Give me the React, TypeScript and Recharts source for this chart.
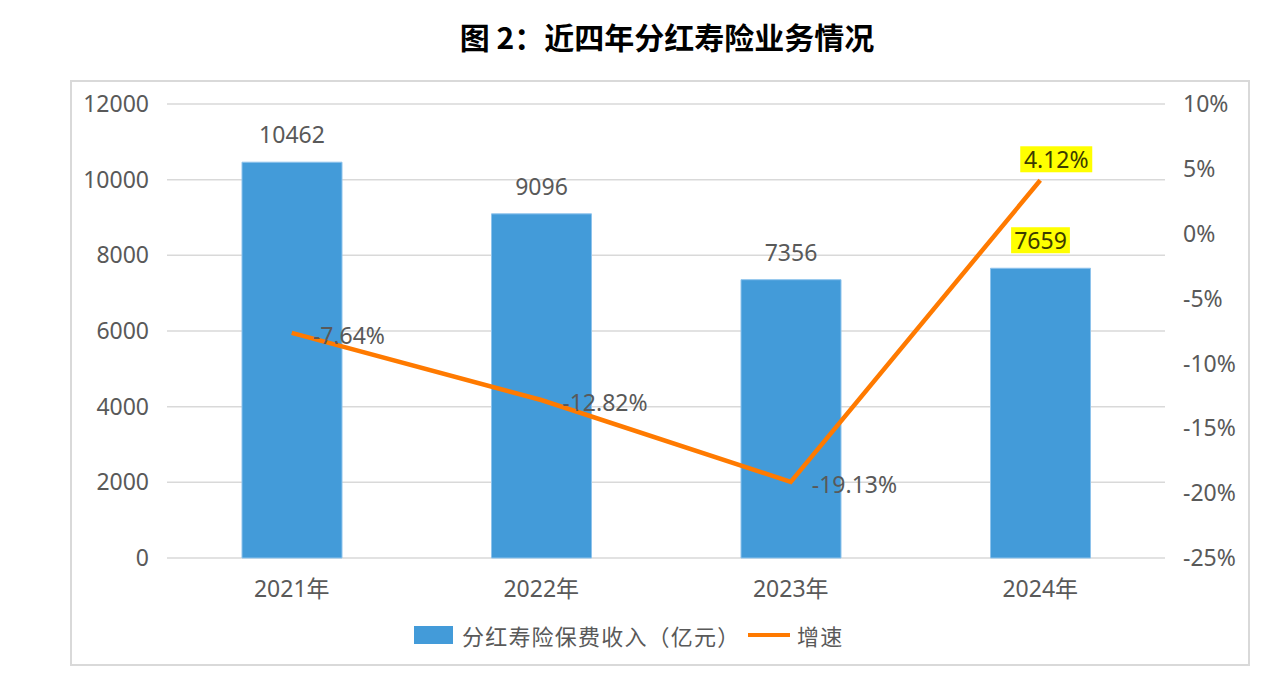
import React from "react";
import { ComposedChart, Bar, Line, XAxis, YAxis, CartesianGrid, LabelList } from "recharts";

// 近四年分红寿险业务情况
const years = ["2021年", "2022年", "2023年", "2024年"];
const premium = [10462, 9096, 7356, 7659]; // 亿元
const growth = [-7.64, -12.82, -19.13, 4.12]; // %
const leftTicks = [0, 2000, 4000, 6000, 8000, 10000, 12000];
const rightTicks = [-25, -20, -15, -10, -5, 0, 5, 10];
const highlightIndex = 3; // 2024 labels are marked in yellow

const data = years.map((year, i) => ({ year, premium: premium[i], growth: growth[i] }));

const FONT = "'Noto Sans', 'Noto Sans CJK SC', sans-serif";
const GREY = "#595959";
const BLUE = "#439bd9";
const ORANGE = "#ff7a00";
const FS = 23;

function Tag({ cx, cy, text, hi }: { cx: number; cy: number; text: string; hi: boolean }) {
  const w = text.length * 13.2 + 6;
  return (
    <g>
      {hi && <rect x={cx - w / 2} y={cy - 13} width={w} height={26} fill="#ffff00" />}
      <text x={cx} y={cy} textAnchor="middle" dominantBaseline="central" fontSize={FS} fontFamily={FONT} fill={hi ? "#3b3b00" : GREY}>
        {text}
      </text>
    </g>
  );
}

const barLabel = (p: any) => (
  <Tag cx={p.x + p.width / 2} cy={p.y - 28} text={String(p.value)} hi={p.index === highlightIndex} />
);

const lineLabel = (p: any) => {
  const text = Number(p.value).toFixed(2) + "%";
  if (p.index === highlightIndex) {
    return <Tag cx={p.x + 16} cy={p.y - 21} text={text} hi />;
  }
  return (
    <text x={p.x + 21} y={p.y + 2} dominantBaseline="central" fontSize={FS} fontFamily={FONT} fill={GREY}>
      {text}
    </text>
  );
};

const legendText: React.CSSProperties = {
  position: "absolute", top: 620, fontSize: 22, lineHeight: "30px", color: GREY, letterSpacing: 1.2,
  fontFamily: "'Noto Sans CJK SC', sans-serif", whiteSpace: "nowrap",
};

export default function App() {
  return (
    <div style={{ position: "absolute", left: 0, top: 0, width: 1275, height: 692, background: "#fff", fontFamily: FONT }}>
      <div
        style={{
          position: "absolute", left: 367, top: 14, width: 600, textAlign: "center",
          fontFamily: "'Noto Sans CJK SC', sans-serif", fontWeight: 700, fontSize: 30, color: "#000", whiteSpace: "nowrap",
        }}
      >
        图 2：近四年分红寿险业务情况
      </div>
      <div style={{ position: "absolute", left: 70, top: 80, width: 1176, height: 582, border: "2px solid #d9d9d9" }} />

      <ComposedChart
        width={1275}
        height={692}
        data={data}
        margin={{ top: 104, right: 0, left: 0, bottom: 94 }}
        style={{ position: "absolute", left: 0, top: 0 }}
      >
        <CartesianGrid yAxisId="left" vertical={false} stroke="#d9d9d9" strokeWidth={1.5} />
        <XAxis
          dataKey="year"
          height={40}
          axisLine={false}
          tickLine={false}
          tickMargin={17}
          tick={{ fontSize: FS, fill: GREY, fontFamily: FONT }}
        />
        <YAxis
          yAxisId="left"
          width={167}
          domain={[0, 12000]}
          ticks={leftTicks}
          axisLine={false}
          tickLine={false}
          tickMargin={12}
          tick={{ fontSize: FS, fill: GREY, fontFamily: FONT }}
        />
        <YAxis
          yAxisId="right"
          orientation="right"
          width={110}
          domain={[-25, 10]}
          ticks={rightTicks}
          tickFormatter={(v) => v + "%"}
          axisLine={false}
          tickLine={false}
          tickMargin={12}
          tick={{ fontSize: FS, fill: GREY, fontFamily: FONT }}
        />
        <Bar yAxisId="left" dataKey="premium" barSize={100} fill={BLUE} stroke="#8ec3ec" strokeWidth={1} isAnimationActive={false}>
          <LabelList dataKey="premium" content={barLabel} />
        </Bar>
        <Line
          yAxisId="right"
          dataKey="growth"
          stroke={ORANGE}
          strokeWidth={4.5}
          dot={false}
          activeDot={false}
          isAnimationActive={false}
        >
          <LabelList dataKey="growth" content={lineLabel} />
        </Line>
      </ComposedChart>

      <div style={{ position: "absolute", left: 414, top: 626, width: 39, height: 18, background: BLUE }} />
      <div style={{ ...legendText, left: 462 }}>分红寿险保费收入（亿元）</div>
      <div style={{ position: "absolute", left: 748, top: 633, width: 42, height: 4, background: ORANGE }} />
      <div style={{ ...legendText, left: 797 }}>增速</div>
    </div>
  );
}
